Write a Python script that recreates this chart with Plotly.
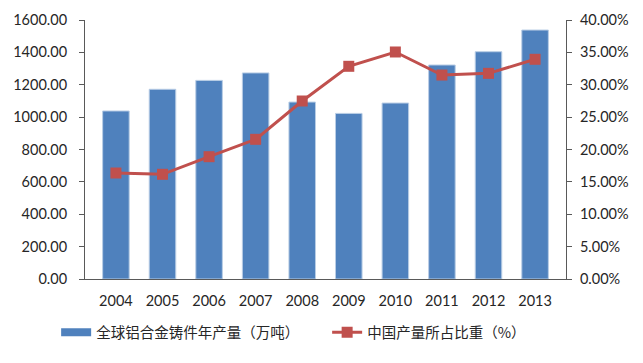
import plotly.graph_objects as go

years = ["2004", "2005", "2006", "2007", "2008", "2009", "2010", "2011", "2012", "2013"]
global_output = [1038, 1172, 1227, 1273, 1093, 1023, 1087, 1322, 1404, 1538]
china_share = [16.37, 16.17, 18.89, 21.57, 27.49, 32.85, 35.06, 31.5, 31.76, 33.93]

bar_name = "全球铝合金铸件年产量（万吨）"
line_name = "中国产量所占比重（%）"

font_main = "Lato, Liberation Sans, Noto Sans CJK SC, sans-serif"
axis_col = "#595959"
bar_col = "#4F81BD"
line_col = "#C0504D"
tick_font = dict(family=font_main, size=14.5, color="#262626")

fig = go.Figure()
fig.add_trace(go.Bar(
    x=years, y=global_output, name=bar_name, showlegend=False,
    marker=dict(color=bar_col, line=dict(color="#B9CDE5", width=1)),
))
# legend entry for bars drawn as a wide rectangle
fig.add_trace(go.Scatter(
    x=[None], y=[None], name=bar_name, mode="lines",
    line=dict(color=bar_col, width=8),
))
fig.add_trace(go.Scatter(
    x=years, y=china_share, name=line_name, yaxis="y2",
    mode="lines+markers",
    line=dict(color=line_col, width=3),
    marker=dict(symbol="square", size=11, color=line_col),
))

fig.update_layout(
    width=643, height=363,
    margin=dict(l=77, r=85, t=12, b=92, autoexpand=False),
    paper_bgcolor="white", plot_bgcolor="white",
    bargap=0.43,
    font=dict(family=font_main, size=13, color="#262626"),
    showlegend=True,
    legend=dict(
        orientation="h", x=-0.06, xanchor="left", y=-0.206, yanchor="middle",
        font=dict(family="Noto Sans CJK SC, sans-serif", size=14.5, color="#262626"),
        itemwidth=30, tracegroupgap=0, entrywidth=226,
        bgcolor="rgba(0,0,0,0)",
    ),
    xaxis=dict(
        type="category", showgrid=False, showline=True, linecolor=axis_col,
        linewidth=1, ticks="", tickfont=tick_font, ticklabelstandoff=9,
        automargin=False,
    ),
    yaxis=dict(
        range=[0, 1600], dtick=200, tickformat=".2f", showgrid=False,
        showline=True, linecolor=axis_col, linewidth=1,
        ticks="outside", ticklen=5, tickcolor=axis_col, zeroline=False,
        tickfont=tick_font, ticklabelstandoff=9, automargin=False,
    ),
    yaxis2=dict(
        range=[0, 40], dtick=5, tickformat=".2f", ticksuffix="%",
        overlaying="y", side="right", showgrid=False,
        showline=True, linecolor=axis_col, linewidth=1,
        ticks="outside", ticklen=5, tickcolor=axis_col, zeroline=False,
        tickfont=tick_font, ticklabelstandoff=5, automargin=False,
    ),
)

fig.write_html("out.html")
